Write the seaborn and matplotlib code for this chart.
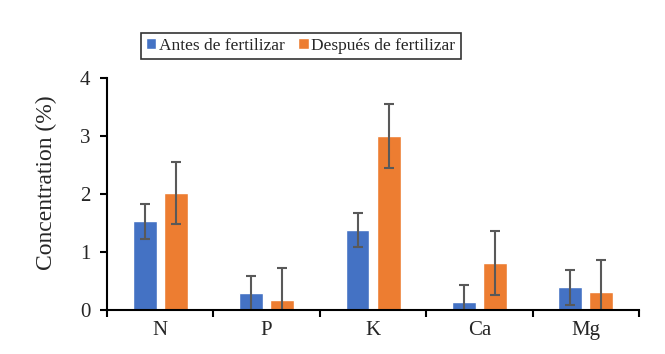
import seaborn as sns
import matplotlib.pyplot as plt
import numpy as np
import pandas as pd

elements = ['N', 'P', 'K', 'Ca', 'Mg']
antes = [1.53, 0.29, 1.38, 0.14, 0.39]
antes_err = [0.30, 0.30, 0.30, 0.29, 0.30]
despues = [2.02, 0.17, 3.00, 0.81, 0.31]
despues_err = [0.53, 0.56, 0.55, 0.55, 0.55]
series = ['Antes de fertilizar', 'Después de fertilizar']
colors = ['#4472C4', '#ED7D31']

df = pd.DataFrame({
    'element': elements * 2,
    'value': antes + despues,
    'err': antes_err + despues_err,
    'serie': [series[0]] * 5 + [series[1]] * 5,
})

sns.set_style('white')
plt.rcParams['font.family'] = ['Liberation Serif', 'DejaVu Serif']

fig = plt.figure(figsize=(6.65, 3.54), dpi=100)
ax = fig.add_axes([0.161, 0.1243, 0.8, 0.6554])

sns.barplot(data=df, x='element', y='value', hue='serie', palette=colors,
            width=0.584, gap=0.23, errorbar=None, ax=ax, saturation=1)

# error bars at the bar centres
for bars, s in zip(ax.containers, series):
    sub = df[df['serie'] == s]
    xs = [b.get_x() + b.get_width() / 2 for b in bars]
    ax.errorbar(xs, sub['value'], yerr=sub['err'], fmt='none',
                ecolor='#595959', elinewidth=1.5, capsize=3.3, capthick=1.5)

ax.set_xlim(-0.5, 4.5)
ax.set_ylim(0, 4)
ax.set_yticks([0, 1, 2, 3, 4])
ax.set_xticks(np.arange(-0.5, 5, 1), minor=True)
ax.tick_params(axis='x', which='major', length=0, labelsize=15, pad=8)
ax.tick_params(axis='x', which='minor', length=5, width=1.5, direction='out',
               bottom=True, color='black')
ax.tick_params(axis='y', length=5, width=1.5, direction='out', left=True,
               labelsize=15, pad=7, color='black')
ax.set_xlabel('')
ax.set_ylabel('Concentration (%)', fontsize=17)
ax.yaxis.set_label_coords(-0.094, 0.55)

sns.despine(ax=ax)
for side in ['left', 'bottom']:
    ax.spines[side].set_linewidth(1.5)
    ax.spines[side].set_color('black')

ax.legend(loc='center', ncol=2, frameon=True,
          fancybox=False, edgecolor='black', fontsize=12.5,
          handlelength=0.6, handleheight=0.6, handletextpad=0.15,
          columnspacing=0.8, borderpad=0.3)
leg = ax.get_legend()
leg.set_bbox_to_anchor((0.452, 0.870), transform=fig.transFigure)
leg.get_frame().set_linewidth(1.2)

fig.savefig('out.png', dpi=100)
